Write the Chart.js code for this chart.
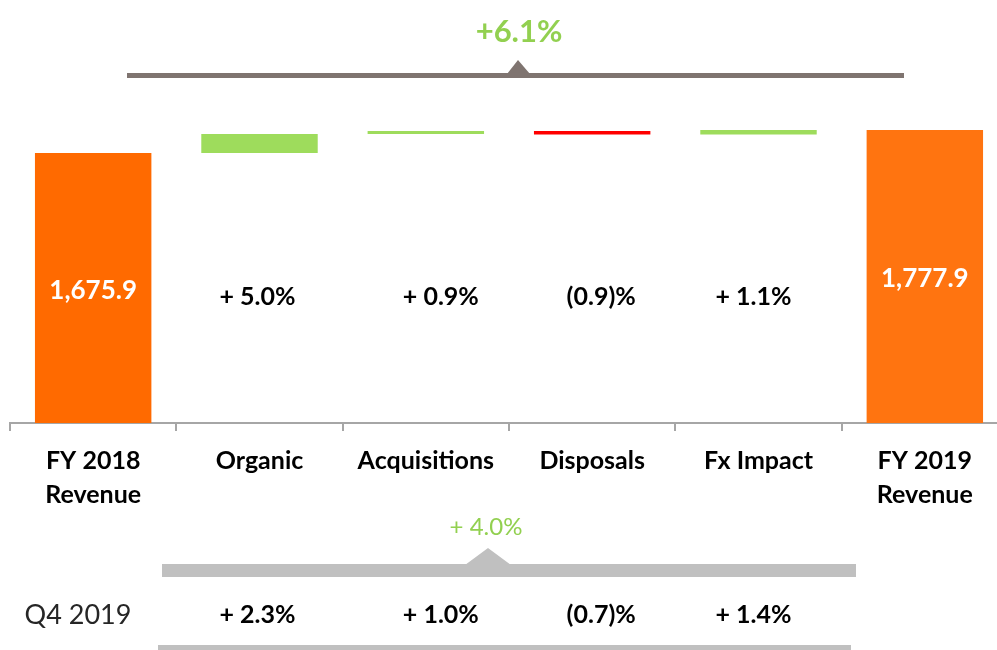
<!DOCTYPE html>
<html>
<head>
<meta charset="utf-8">
<script src="https://cdn.jsdelivr.net/npm/chart.js@4.4.1/dist/chart.umd.min.js"></script>
<style>
  html, body { margin: 0; padding: 0; background: #fff; overflow: hidden; }
  #wrap { position: absolute; left: 0; top: 0; width: 1008px; height: 650px; }
</style>
</head>
<body>
<div id="wrap"><canvas id="myChart" width="1008" height="650"></canvas></div>
<script>
// categories and bar values (floating bars: low / high)
const categories = [['FY 2018', 'Revenue'], 'Organic', 'Acquisitions', 'Disposals', 'Fx Impact', ['FY 2019', 'Revenue']];
const barLow  = [0, 1675.9, 1760, 1758, 1758, 0];
const barHigh = [1675.9, 1759.7, 1773, 1773, 1778, 1777.9];
const fyLabels = ['1,675.9', '+ 5.0%', '+ 0.9%', '(0.9)%', '+ 1.1%', '1,777.9'];
const fyTotal = '+6.1%';
const q4Name = 'Q4 2019';
const q4Labels = ['+ 2.3%', '+ 1.0%', '(0.7)%', '+ 1.4%'];
const q4Total = '+ 4.0%';

const barColors = ['#ff6a00', '#9edc5c', '#9edc5c', '#ff0000', '#9edc5c', '#ff7410'];
const labelShift = [0, -2, 15, 9, -5, 0];
const labelY = [291, 297, 297, 297, 297, 279];
const FONT = 'Lato, "Open Sans", sans-serif';

const barData = [];
for (let i = 0; i < categories.length; i++) {
  barData.push([barLow[i], barHigh[i]]);
}

const annotations = {
  id: 'annotations',
  afterDatasetsDraw(chart) {
    const ctx = chart.ctx;
    const x = chart.scales.x;
    ctx.save();
    ctx.textAlign = 'center';
    ctx.textBaseline = 'middle';

    // labels in the middle row
    for (let i = 0; i < fyLabels.length; i++) {
      const total = (i == 0 || i == fyLabels.length - 1);
      ctx.fillStyle = total ? '#ffffff' : '#000000';
      ctx.font = 'bold ' + (total ? 26 : 25) + 'px ' + FONT;
      ctx.fillText(fyLabels[i], x.getPixelForValue(i) + labelShift[i], labelY[i]);
    }

    // top bracket
    ctx.fillStyle = '#92d050';
    ctx.font = 'bold 31px ' + FONT;
    ctx.fillText(fyTotal, 519, 32);
    ctx.fillStyle = '#7f7470';
    ctx.fillRect(127, 73, 777, 5);
    ctx.beginPath();
    ctx.moveTo(507, 74);
    ctx.lineTo(518, 60);
    ctx.lineTo(530, 74);
    ctx.closePath();
    ctx.fill();

    // Q4 bracket
    ctx.fillStyle = '#92d050';
    ctx.font = '24px ' + FONT;
    ctx.fillText(q4Total, 486, 527);
    ctx.fillStyle = '#c0c0c0';
    ctx.fillRect(162, 564, 694, 13);
    ctx.beginPath();
    ctx.moveTo(465, 565);
    ctx.lineTo(488, 548);
    ctx.lineTo(511, 565);
    ctx.closePath();
    ctx.fill();
    ctx.fillRect(158, 645, 693, 10);

    // Q4 row
    ctx.fillStyle = '#262626';
    ctx.font = '27px ' + FONT;
    ctx.fillText(q4Name, 78, 615);
    ctx.fillStyle = '#000000';
    ctx.font = 'bold 25px ' + FONT;
    for (let i = 0; i < q4Labels.length; i++) {
      ctx.fillText(q4Labels[i], x.getPixelForValue(i + 1) + labelShift[i + 1], 615);
    }
    ctx.restore();
  }
};

const myChart = document.getElementById('myChart');
const waterfall = new Chart(myChart, {
  type: 'bar',
  data: {
    labels: categories,
    datasets: [{
      data: barData,
      backgroundColor: barColors,
      borderWidth: 0,
      barPercentage: 0.7,
      categoryPercentage: 1.0
    }]
  },
  options: {
    responsive: false,
    animation: false,
    devicePixelRatio: 1,
    layout: { padding: { left: 10, right: 0, top: 0, bottom: 0 } },
    plugins: { legend: { display: false }, tooltip: { enabled: false } },
    scales: {
      x: {
        grid: { drawOnChartArea: false, color: '#a6a6a6', lineWidth: 2, tickLength: 8 },
        border: { color: '#a6a6a6', width: 2 },
        ticks: {
          color: '#000000',
          padding: 13,
          font: { family: FONT, size: 25, weight: 'bold', lineHeight: 1.36 }
        },
        afterFit(scale) { scale.height = 227; }
      },
      y: {
        display: false,
        min: 478,
        max: 2354
      }
    }
  },
  plugins: [annotations]
});
</script>
</body>
</html>
